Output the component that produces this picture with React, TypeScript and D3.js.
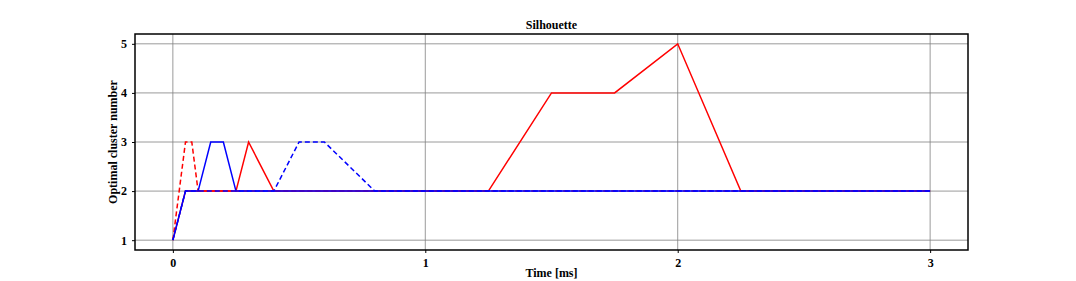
import React, { useEffect, useRef } from 'react';
import * as d3 from 'd3';

// time points (ms) and optimal cluster number for each run
const redSolidT = [0, 0.05, 0.1, 0.15, 0.2, 0.25, 0.3, 0.35, 0.4, 0.5, 0.75, 1.0, 1.25, 1.5, 1.75, 2.0, 2.25, 2.5, 2.75, 3.0];
const redSolidY = [1, 2, 2, 2, 2, 2, 3, 2.5, 2, 2, 2, 2, 2, 4, 4, 5, 2, 2, 2, 2];
const redDashT = [0, 0.05, 0.075, 0.1, 0.2, 0.3, 0.4, 0.5, 1.0, 2.0, 3.0];
const redDashY = [1, 3, 3, 2, 2, 2, 2, 2, 2, 2, 2];
const blueSolidT = [0, 0.05, 0.1, 0.15, 0.2, 0.25, 0.3, 0.4, 0.5, 1.0, 2.0, 3.0];
const blueSolidY = [1, 2, 2, 3, 3, 2, 2, 2, 2, 2, 2, 2];
const blueDashT = [0, 0.05, 0.1, 0.2, 0.3, 0.4, 0.5, 0.6, 0.7, 0.8, 1.0, 2.0, 3.0];
const blueDashY = [1, 2, 2, 2, 2, 2, 3, 3, 2.5, 2, 2, 2, 2];

const xTicks = [0, 1, 2, 3];
const yTicks = [1, 2, 3, 4, 5];

const series = [
  { t: redSolidT, y: redSolidY, color: '#ff0000', dash: null },
  { t: redDashT, y: redDashY, color: '#ff0000', dash: '5,3' },
  { t: blueSolidT, y: blueSolidY, color: '#0000ff', dash: null },
  { t: blueDashT, y: blueDashY, color: '#0000ff', dash: '5,3' },
];

const App = () => {
  const svgRef = useRef<SVGSVGElement>(null);

  useEffect(() => {
    const svg = d3.select(svgRef.current);
    svg.selectAll('*').remove();

    const width = 1076;
    const height = 281;
    const left = 135, right = 968, top = 34, bottom = 250;
    const font = '"Liberation Serif", "Times New Roman", serif';

    const x = d3.scaleLinear().domain([-0.15, 3.15]).range([left, right]);
    const y = d3.scaleLinear().domain([0.8, 5.2]).range([bottom, top]);

    svg.attr('width', width).attr('height', height);

    // grid
    svg.append('g').selectAll('line.gx')
      .data(xTicks).enter().append('line')
      .attr('x1', d => x(d)).attr('x2', d => x(d))
      .attr('y1', top).attr('y2', bottom)
      .attr('stroke', '#808080').attr('stroke-width', 0.8);
    svg.append('g').selectAll('line.gy')
      .data(yTicks).enter().append('line')
      .attr('x1', left).attr('x2', right)
      .attr('y1', d => y(d)).attr('y2', d => y(d))
      .attr('stroke', '#808080').attr('stroke-width', 0.8);

    // lines
    const line = d3.line<[number, number]>().x(d => x(d[0])).y(d => y(d[1]));
    series.forEach(s => {
      const pts = s.t.map((t, i) => [t, s.y[i]] as [number, number]);
      svg.append('path')
        .attr('d', line(pts))
        .attr('fill', 'none')
        .attr('stroke', s.color)
        .attr('stroke-width', 1.5)
        .attr('stroke-dasharray', s.dash);
    });

    // frame
    svg.append('rect')
      .attr('x', left).attr('y', top)
      .attr('width', right - left).attr('height', bottom - top)
      .attr('fill', 'none').attr('stroke', '#000').attr('stroke-width', 1.5);

    // axes
    const xAxis = svg.append('g')
      .attr('transform', `translate(0,${bottom})`)
      .call(d3.axisBottom(x).tickValues(xTicks).tickFormat(d3.format('d')).tickSize(3).tickPadding(5));
    const yAxis = svg.append('g')
      .attr('transform', `translate(${left},0)`)
      .call(d3.axisLeft(y).tickValues(yTicks).tickFormat(d3.format('d')).tickSize(3).tickPadding(5));
    [xAxis, yAxis].forEach(a => {
      a.select('.domain').remove();
      a.selectAll('text')
        .attr('font-family', font)
        .attr('font-weight', 'bold')
        .attr('font-size', 12)
        .attr('fill', '#000');
    });

    svg.append('text')
      .attr('x', (left + right) / 2).attr('y', 29)
      .attr('text-anchor', 'middle')
      .attr('font-family', font).attr('font-weight', 'bold').attr('font-size', 12)
      .text('Silhouette');

    svg.append('text')
      .attr('x', (left + right) / 2).attr('y', 277)
      .attr('text-anchor', 'middle')
      .attr('font-family', font).attr('font-weight', 'bold').attr('font-size', 12)
      .text('Time [ms]');

    svg.append('text')
      .attr('transform', `translate(117,${(top + bottom) / 2}) rotate(-90)`)
      .attr('text-anchor', 'middle')
      .attr('font-family', font).attr('font-weight', 'bold').attr('font-size', 12)
      .text('Optimal cluster number');
  }, []);

  return (
    <div style={{ position: 'absolute', left: 0, top: 0 }}>
      <svg ref={svgRef}></svg>
    </div>
  );
};

export default App;
